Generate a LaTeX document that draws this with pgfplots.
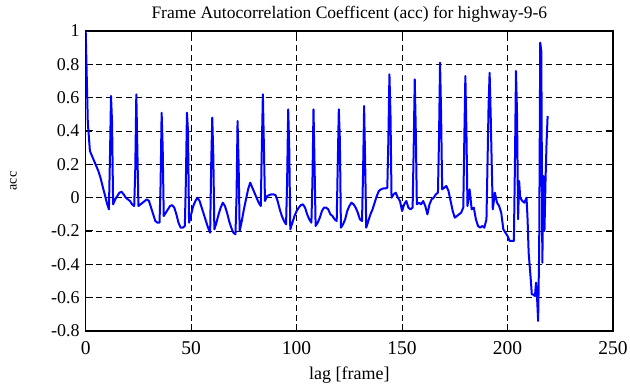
\documentclass[border=0pt]{standalone}
\usepackage{fontspec}
\setmainfont{Liberation Serif}
\usepackage{pgfplots}
\pgfplotsset{compat=1.18}
\usepackage{pgfplotstable}
\pgfplotstableread{
x y
0 1.00
1 0.45
2 0.28
3 0.25
4 0.22
5 0.19
6 0.16
7 0.12
8 0.07
9 0.02
10 -0.03
11 -0.07
11.5 0.24
12 0.61
12.5 0.45
13 -0.04
14 -0.01
15 0.01
16 0.03
17 0.035
18 0.02
19 0.00
20 -0.01
21 -0.02
22 -0.04
23 -0.05
23.5 0.17
24 0.62
24.5 0.28
25 -0.05
26 -0.04
27 -0.03
28 -0.02
29 -0.01
30 -0.02
31 -0.06
32 -0.10
33 -0.14
34 -0.15
35 -0.15
35.5 0.08
36 0.51
36.5 0.30
37 -0.11
38 -0.09
39 -0.07
40 -0.05
41 -0.045
42 -0.06
43 -0.10
44 -0.15
45 -0.18
46 -0.18
47 -0.17
47.5 0.10
48 0.51
48.5 0.40
49 -0.15
50 -0.10
51 -0.05
52 -0.02
53 0.00
54 -0.02
55 -0.06
56 -0.10
57 -0.14
58 -0.18
59 -0.21
59.5 0.20
60 0.48
60.5 0.25
61 -0.19
62 -0.15
63 -0.10
64 -0.06
65 -0.03
66 -0.05
67 -0.09
68 -0.14
69 -0.18
70 -0.21
71 -0.22
71.5 0.00
72 0.46
72.5 0.20
73 -0.20
74 -0.14
75 -0.07
76 -0.01
77 0.05
78 0.09
79 0.06
80 0.03
81 0.00
82 -0.03
83 -0.05
83.5 0.30
84 0.62
84.5 0.30
85 -0.02
86 0.01
87 0.015
88 0.02
89 0.02
90 0.015
91 -0.02
92 -0.07
93 -0.11
94 -0.14
95 -0.16
95.5 0.10
96 0.53
96.5 0.30
97 -0.19
98 -0.15
99 -0.11
100 -0.08
101 -0.06
102 -0.045
103 -0.04
104 -0.06
105 -0.10
106 -0.13
107 -0.15
107.5 0.10
108 0.53
108.5 0.20
109 -0.17
110 -0.15
111 -0.12
112 -0.08
113 -0.06
114 -0.06
115 -0.07
116 -0.10
117 -0.11
118 -0.13
119 -0.14
119.5 0.20
120 0.53
120.5 0.35
121 -0.18
122 -0.16
123 -0.13
124 -0.08
125 -0.05
126 -0.03
127 -0.04
128 -0.06
129 -0.09
130 -0.13
131 -0.14
131.5 0.15
132 0.55
132.5 0.20
133 -0.18
134 -0.14
135 -0.10
136 -0.07
137 -0.03
138 0.01
139 0.04
140 0.05
141 0.055
142 0.055
143 0.06
143.5 0.35
144 0.74
144.5 0.50
145 0.00
146 0.02
147 0.03
148 0.00
149 -0.02
150 -0.08
151 -0.04
152 -0.02
153 -0.06
154 -0.07
155 -0.06
155.5 0.30
156 0.71
156.5 0.40
157 -0.04
158 -0.03
159 -0.04
160 -0.02
161 -0.05
162 -0.10
163 -0.04
164 -0.01
165 0.00
166 0.02
167 0.03
167.5 0.35
168 0.81
168.5 0.50
169 0.05
170 0.06
171 0.07
172 0.04
173 -0.02
174 -0.08
175 -0.12
176 -0.11
177 -0.10
178 -0.09
179 -0.06
179.5 0.35
180 0.73
180.5 0.40
181 -0.05
182 0.05
183 -0.07
184 -0.06
185 -0.13
186 -0.17
187 -0.18
188 -0.17
189 -0.18
190 -0.13
190.5 0.20
191 0.55
191.5 0.75
192 0.50
192.5 0.20
193 -0.07
194 0.03
195 -0.03
196 -0.05
197 -0.09
198 -0.19
199 -0.21
200 -0.23
201 -0.26
202 -0.26
203 -0.26
203.5 0.20
204 0.76
204.5 0.50
205 -0.13
205.5 0.10
206 0.00
207 -0.02
208 -0.03
209 0.00
209.5 -0.13
210 -0.33
211 -0.49
211.5 -0.58
212 -0.58
213 -0.59
213.5 -0.51
214 -0.60
214.5 -0.74
215 -0.30
215.5 0.93
216 0.88
216.5 -0.39
217 0.13
217.5 -0.20
218 0.10
218.5 0.33
219 0.49
}\acc
\begin{document}
\fontsize{18}{20}\selectfont
\begin{tikzpicture}
\begin{axis}[
  scale only axis,
  width=527.3pt, height=300pt,
  xmin=0, xmax=250, ymin=-0.8, ymax=1,
  xtick={0,50,...,250},
  ytick={-0.8,-0.6,...,1.0},
  /pgf/number format/assume math mode=true,
  yticklabels={-0.8,-0.6,-0.4,-0.2,0,0.2,0.4,0.6,0.8,1},
  tick align=inside,
  major tick length=7pt,
  tick style={black, line width=1pt},
  axis line style={black, line width=1.3pt},
  grid=major,
  major grid style={black, line width=0.8pt, dash pattern=on 6pt off 4pt},
  xticklabel style={font=\fontsize{19.5}{21}\selectfont, yshift=-4pt},
  yticklabel style={font=\fontsize{18}{20}\selectfont},
  title style={font=\fontsize{17.5}{20}\selectfont, yshift=-3pt},
  title={Frame Autocorrelation Coefficent (acc) for highway-9-6},
  xlabel={lag [frame]},
  ylabel={acc},
  xlabel style={font=\fontsize{18}{20}\selectfont, yshift=0pt},
  ylabel style={font=\fontsize{14}{16}\selectfont, yshift=22pt},
]
\addplot[blue, line width=2pt, line join=round] table {\acc};
\end{axis}
\pgfresetboundingbox
\path ([shift={(-85.7pt,-56pt)}]current axis.south west) rectangle ([shift={(17pt,31pt)}]current axis.north east);
\end{tikzpicture}
\end{document}
